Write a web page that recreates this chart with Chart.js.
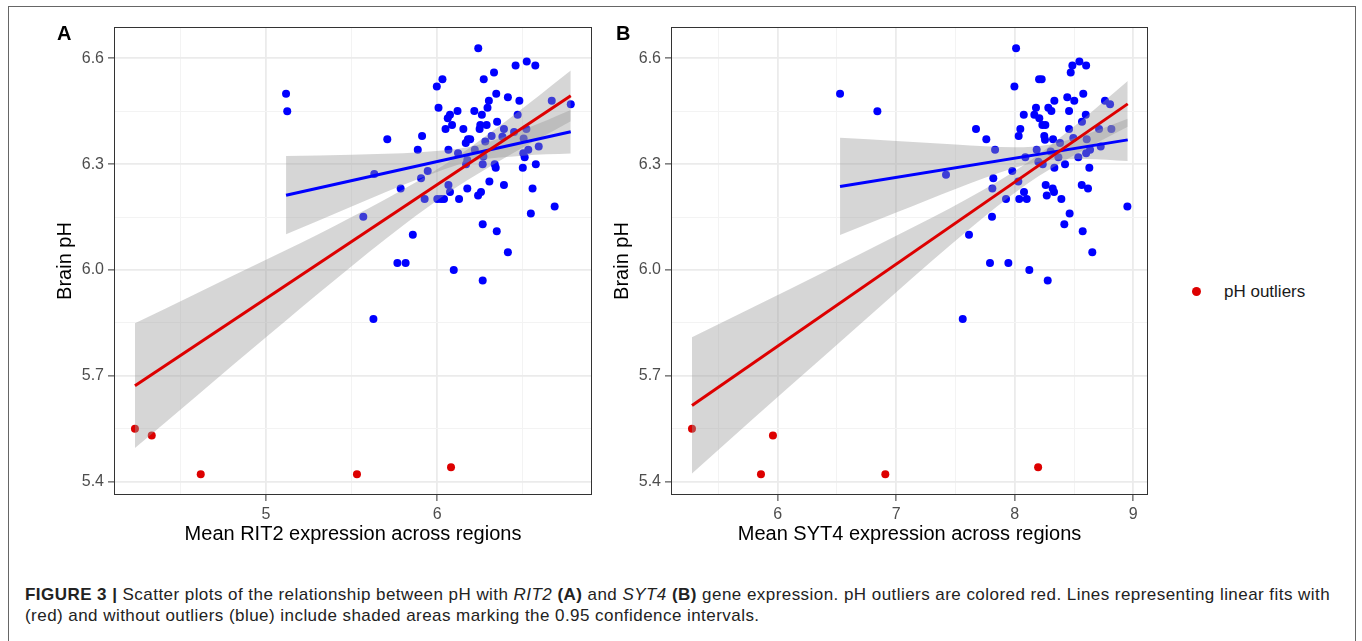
<!DOCTYPE html>
<html>
<head>
<meta charset="utf-8">
<title>Brain pH vs RIT2 / SYT4 expression</title>
<script src="https://cdn.jsdelivr.net/npm/chart.js@4.4.0/dist/chart.umd.min.js"></script>
<style>
  body { margin: 0; background: #fff; width: 1362px; height: 641px; overflow: hidden; position: relative;
         font-family: 'Liberation Sans', Arial, sans-serif; }
  #frame { position: absolute; left: 8px; top: 6px; width: 1346px; height: 700px; border: 1px solid #666; }
  .panel { position: absolute; top: 0; }
  .tag { position: absolute; top: 22px; font-size: 20px; font-weight: bold; color: #000; }
  #legend { position: absolute; left: 1192px; top: 282px; font-size: 17px; color: #1a1a1a; white-space: nowrap; }
  #legend .dot { display: inline-block; width: 9px; height: 9px; border-radius: 50%; background: #dd0000; margin-right: 23px; vertical-align: 1px; }
  #caption { position: absolute; left: 25px; top: 584px; font-size: 17px; letter-spacing: 0.45px; line-height: 21px; color: #222; white-space: nowrap; }
</style>
</head>
<body>
<div id="frame"></div>
<div class="panel" style="left:0px"><canvas id="chartA" width="600" height="560"></canvas></div>
<div class="panel" style="left:557px"><canvas id="chartB" width="599" height="560"></canvas></div>
<div class="tag" style="left:57px">A</div>
<div class="tag" style="left:616px">B</div>
<div id="legend"><span class="dot"></span>pH outliers</div>
<div id="caption"><b>FIGURE 3 |</b> Scatter plots of the relationship between pH with <i>RIT2</i> <b>(A)</b> and <i>SYT4</i> <b>(B)</b> gene expression. pH outliers are colored red. Lines representing linear fits with<br>(red) and without outliers (blue) include shaded areas marking the 0.95 confidence intervals.</div>

<script>
'use strict';

const RED = '#dd0000';
const BLUE = '#0000ff';
const BAND = 'rgba(153,153,153,0.4)';

// y axis (same in both panels)
const yTicks = [5.4, 5.55, 5.7, 5.85, 6.0, 6.15, 6.3, 6.45, 6.6];
const yMajor = [5.4, 5.7, 6.0, 6.3, 6.6];
const yTickLabels = ['5.4', '5.7', '6.0', '6.3', '6.6'];

// ---- panel A: RIT2 ----
const ritTicks = [4.5, 5, 5.5, 6, 6.5];
const ritMajor = [5, 6];
const ritTickLabels = ['5', '6'];

const ritX = [6.239, 6.522, 6.457, 6.572, 6.331, 6.271, 6.030, 5.997, 6.344, 6.412,
  6.301, 6.479, 6.668, 6.779, 6.007, 6.293, 6.118, 6.216, 6.074, 6.260,
  6.469, 6.061, 6.349, 6.086, 6.251, 6.288, 6.048, 6.152, 6.247, 6.389,
  6.520, 5.911, 6.317, 5.708, 6.179, 6.192, 6.280, 6.380, 6.448, 6.504,
  6.592, 5.886, 6.065, 6.219, 6.531, 6.121, 6.502, 6.510, 6.175, 6.269,
  6.168, 6.265, 6.335, 6.575, 6.341, 6.499, 5.632, 5.944, 5.905, 6.304,
  6.065, 6.389, 5.786, 6.175, 6.556, 6.074, 6.255, 6.238, 5.926, 6.000,
  6.022, 6.039, 6.127, 6.685, 6.546, 5.568, 6.265, 6.347, 5.857, 6.412,
  5.767, 5.815, 6.096, 6.265, 5.117, 5.124, 5.627, 6.166];
const ritY = [6.629, 6.591, 6.580, 6.580, 6.560, 6.541, 6.541, 6.520, 6.500, 6.490,
  6.480, 6.480, 6.480, 6.470, 6.460, 6.460, 6.451, 6.451, 6.440, 6.440,
  6.440, 6.430, 6.420, 6.411, 6.411, 6.411, 6.400, 6.400, 6.400, 6.400,
  6.400, 6.380, 6.380, 6.371, 6.371, 6.371, 6.364, 6.378, 6.391, 6.373,
  6.350, 6.341, 6.341, 6.341, 6.341, 6.331, 6.331, 6.320, 6.312, 6.322,
  6.300, 6.300, 6.300, 6.300, 6.290, 6.290, 6.272, 6.281, 6.260, 6.251,
  6.241, 6.241, 6.231, 6.231, 6.231, 6.221, 6.221, 6.211, 6.201, 6.201,
  6.201, 6.201, 6.201, 6.180, 6.160, 6.151, 6.130, 6.110, 6.100, 6.050,
  6.020, 6.020, 6.000, 5.970, 6.500, 6.450, 5.861, 6.360];
const ritOutX = [4.235, 4.333, 4.619, 5.531, 6.080];
const ritOutY = [5.550, 5.531, 5.421, 5.421, 5.441];

// fit with outliers (red)
const ritFitAllX = [4.235, 6.779];
const ritFitAllY = [5.672, 6.494];
const ritBandAllX = [4.235, 4.6, 5.0, 5.4, 5.8, 6.1, 6.4, 6.779];
const ritBandAllHi = [5.849, 5.935, 6.029, 6.125, 6.228, 6.317, 6.422, 6.566];
const ritBandAllLo = [5.495, 5.645, 5.809, 5.971, 6.126, 6.231, 6.320, 6.422];
// fit without outliers (blue)
const ritFitX = [5.117, 6.779];
const ritFitY = [6.212, 6.392];
const ritBandX = [5.117, 5.5, 5.9, 6.2, 6.5, 6.779];
const ritBandHi = [6.323, 6.327, 6.334, 6.350, 6.398, 6.454];
const ritBandLo = [6.101, 6.180, 6.260, 6.308, 6.324, 6.330];

// ---- panel B: SYT4 ----
const sytTicks = [5.5, 6, 6.5, 7, 7.5, 8, 8.5, 9];
const sytMajor = [6, 7, 8, 9];
const sytTickLabels = ['6', '7', '8', '9'];

const sytX = [8.011, 8.545, 8.486, 8.602, 8.472, 8.205, 8.227, 7.997, 8.578, 8.443,
  8.502, 8.334, 8.761, 8.804, 8.283, 8.179, 8.309, 8.458, 8.076, 8.165,
  8.599, 8.207, 8.567, 8.233, 8.258, 8.047, 8.458, 7.673, 8.815, 8.711,
  8.033, 8.249, 8.323, 7.760, 8.494, 8.607, 8.382, 8.255, 7.834, 8.185,
  8.635, 8.725, 8.602, 8.303, 8.089, 8.536, 8.368, 8.199, 8.236, 8.424,
  8.334, 8.629, 7.420, 7.979, 7.819, 8.030, 8.261, 8.565, 7.811, 8.320,
  8.618, 8.078, 8.331, 8.270, 7.926, 8.038, 8.101, 8.393, 8.950, 7.808,
  8.463, 7.614, 8.418, 8.573, 8.654, 7.791, 7.946, 8.123, 8.278, 6.526,
  6.841, 7.561];
const sytY = [6.629, 6.591, 6.580, 6.580, 6.560, 6.541, 6.541, 6.520, 6.500, 6.490,
  6.480, 6.480, 6.480, 6.470, 6.460, 6.460, 6.451, 6.451, 6.440, 6.440,
  6.440, 6.430, 6.420, 6.411, 6.411, 6.400, 6.400, 6.400, 6.400, 6.400,
  6.380, 6.380, 6.371, 6.371, 6.374, 6.371, 6.360, 6.369, 6.341, 6.341,
  6.341, 6.350, 6.331, 6.336, 6.320, 6.320, 6.320, 6.307, 6.300, 6.300,
  6.290, 6.290, 6.270, 6.281, 6.260, 6.251, 6.241, 6.241, 6.231, 6.231,
  6.231, 6.221, 6.221, 6.211, 6.201, 6.201, 6.201, 6.201, 6.180, 6.151,
  6.160, 6.100, 6.130, 6.110, 6.050, 6.020, 6.020, 6.000, 5.970, 6.500,
  6.450, 5.861];
const sytOutX = [5.277, 5.960, 5.859, 6.908, 8.197];
const sytOutY = [5.550, 5.531, 5.421, 5.421, 5.441];

const sytFitAllX = [5.277, 8.953];
const sytFitAllY = [5.616, 6.471];
const sytBandAllX = [5.277, 5.8, 6.4, 7.0, 7.6, 8.1, 8.5, 8.953];
const sytBandAllHi = [5.809, 5.896, 5.996, 6.097, 6.202, 6.303, 6.407, 6.536];
const sytBandAllLo = [5.423, 5.580, 5.758, 5.937, 6.111, 6.243, 6.325, 6.406];
const sytFitX = [6.526, 8.953];
const sytFitY = [6.237, 6.369];
const sytBandX = [6.526, 7.0, 7.5, 8.0, 8.3, 8.6, 8.953];
const sytBandHi = [6.375, 6.366, 6.356, 6.348, 6.356, 6.385, 6.429];
const sytBandLo = [6.099, 6.163, 6.230, 6.290, 6.312, 6.315, 6.309];


Chart.defaults.font.family = "'Liberation Sans', Arial, sans-serif";

const pts = (xs, ys) => xs.map((x, i) => ({x: x, y: ys[i]}));

// ggplot-ish panel border drawn over everything
const panelBorder = {
  id: 'panelBorder',
  afterDraw(chart) {
    const {ctx, chartArea: a} = chart;
    ctx.save();
    ctx.strokeStyle = '#333';
    ctx.lineWidth = 1;
    ctx.strokeRect(a.left + 0.5, a.top + 0.5, a.right - a.left - 1, a.bottom - a.top - 1);
    ctx.restore();
  }
};

function gridOpts(major) {
  return {
    color: (c) => major.includes(c.tick && c.tick.value) ? '#ebebeb' : '#f3f3f3',
    lineWidth: (c) => major.includes(c.tick && c.tick.value) ? 1.8 : 1,
    tickColor: (c) => major.includes(c.tick && c.tick.value) ? '#333' : 'rgba(0,0,0,0)',
    tickLength: 6,
    tickWidth: 1
  };
}

function makeChart(id, d) {
  return new Chart(document.getElementById(id), {
    type: 'scatter',
    data: {
      datasets: [
        {type: 'line', data: pts(d.fitAllX, d.fitAllY), borderColor: RED, borderWidth: 3, pointRadius: 0, order: 0},
        {type: 'line', data: pts(d.fitX, d.fitY), borderColor: BLUE, borderWidth: 3, pointRadius: 0, order: 0},
        {type: 'line', data: pts(d.bandAllX, d.bandAllHi), borderWidth: 0, pointRadius: 0, fill: '+1', backgroundColor: BAND, cubicInterpolationMode: 'monotone', order: 1},
        {type: 'line', data: pts(d.bandAllX, d.bandAllLo), borderWidth: 0, pointRadius: 0, fill: false, cubicInterpolationMode: 'monotone', order: 1},
        {type: 'line', data: pts(d.bandX, d.bandHi), borderWidth: 0, pointRadius: 0, fill: '+1', backgroundColor: BAND, cubicInterpolationMode: 'monotone', order: 1},
        {type: 'line', data: pts(d.bandX, d.bandLo), borderWidth: 0, pointRadius: 0, fill: false, cubicInterpolationMode: 'monotone', order: 1},
        {label: 'pH outliers', data: pts(d.outX, d.outY), backgroundColor: RED, borderWidth: 0, pointRadius: 4, order: 2},
        {label: 'samples', data: pts(d.x, d.y), backgroundColor: BLUE, borderWidth: 0, pointRadius: 4, order: 2}
      ]
    },
    options: {
      responsive: false,
      animation: false,
      devicePixelRatio: 1,
      layout: {padding: {top: 27, right: 8, left: 0, bottom: 0}},
      plugins: {legend: {display: false}, tooltip: {enabled: false}},
      scales: {
        x: {
          type: 'linear',
          min: d.xMin,
          max: d.xMax,
          afterBuildTicks: (s) => { s.ticks = d.xTicks.map(v => ({value: v})); },
          afterFit: (s) => { s.height = 65; },
          ticks: {
            color: '#4d4d4d', font: {size: 16}, padding: 4, maxRotation: 0, autoSkip: false,
            callback: (v) => { const i = d.xMajor.indexOf(v); return i < 0 ? '' : d.xLabels[i]; }
          },
          grid: gridOpts(d.xMajor),
          border: {display: false},
          title: {display: true, text: d.xTitle, color: '#000', font: {size: 20}, padding: {top: 0, bottom: 14}}
        },
        y: {
          type: 'linear',
          min: 5.362,
          max: 6.689,
          afterBuildTicks: (s) => { s.ticks = yTicks.map(v => ({value: v})); },
          afterFit: (s) => { s.width = 114; },
          ticks: {
            color: '#4d4d4d', font: {size: 16}, padding: 4, autoSkip: false,
            callback: (v) => { const i = yMajor.indexOf(v); return i < 0 ? '' : yTickLabels[i]; }
          },
          grid: gridOpts(yMajor),
          border: {display: false},
          title: {display: true, text: 'Brain pH', color: '#000', font: {size: 20}, padding: {top: 53, bottom: 0}}
        }
      }
    },
    plugins: [panelBorder]
  });
}

makeChart('chartA', {
  x: ritX, y: ritY, outX: ritOutX, outY: ritOutY,
  fitAllX: ritFitAllX, fitAllY: ritFitAllY,
  bandAllX: ritBandAllX, bandAllHi: ritBandAllHi, bandAllLo: ritBandAllLo,
  fitX: ritFitX, fitY: ritFitY, bandX: ritBandX, bandHi: ritBandHi, bandLo: ritBandLo,
  xMin: 4.1127, xMax: 6.903, xTicks: ritTicks, xMajor: ritMajor, xLabels: ritTickLabels,
  xTitle: 'Mean RIT2 expression across regions'
});

makeChart('chartB', {
  x: sytX, y: sytY, outX: sytOutX, outY: sytOutY,
  fitAllX: sytFitAllX, fitAllY: sytFitAllY,
  bandAllX: sytBandAllX, bandAllHi: sytBandAllHi, bandAllLo: sytBandAllLo,
  fitX: sytFitX, fitY: sytFitY, bandX: sytBandX, bandHi: sytBandHi, bandLo: sytBandLo,
  xMin: 5.100, xMax: 9.124, xTicks: sytTicks, xMajor: sytMajor, xLabels: sytTickLabels,
  xTitle: 'Mean SYT4 expression across regions'
});
</script>
</body>
</html>
